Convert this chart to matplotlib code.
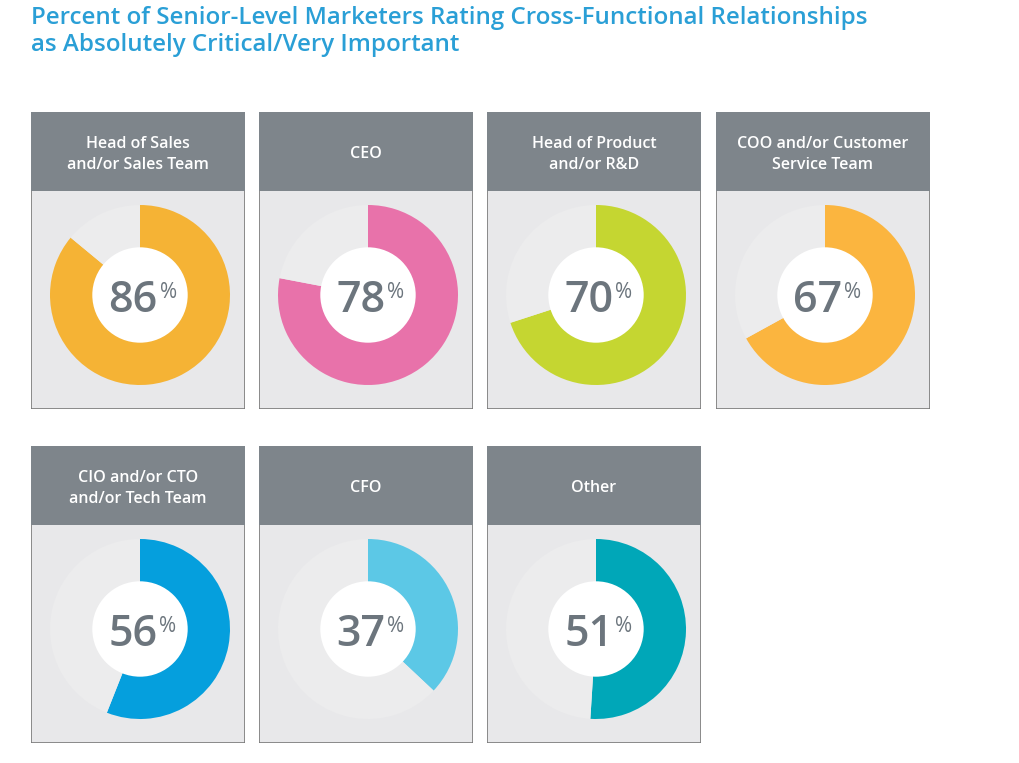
import matplotlib.pyplot as plt
from matplotlib.patches import Rectangle, Circle

labels = [
    "Head of Sales\nand/or Sales Team",
    "CEO",
    "Head of Product\nand/or R&D",
    "COO and/or Customer\nService Team",
    "CIO and/or CTO\nand/or Tech Team",
    "CFO",
    "Other",
]
values = [86, 78, 70, 67, 56, 37, 51]
colors = ["#f5b335", "#e872aa", "#c5d631", "#fbb53f", "#059fdd", "#5cc8e6", "#00a7b8"]

TITLE = "Percent of Senior-Level Marketers Rating Cross-Functional Relationships\nas Absolutely Critical/Very Important"

W, H = 1020, 763
FONT = ["Open Sans", "DejaVu Sans"]
HEADER = "#7e858b"
BODY = "#e8e8ea"
RING = "#ececed"
NUMCOL = "#6c757d"

lefts = [31, 259, 487, 716]
tops = [112, 446]
PW, PH, HH = 214, 297, 79


def px(x, y, w, h):
    return [x / W, 1 - (y + h) / H, w / W, h / H]


fig = plt.figure(figsize=(W / 100, H / 100), dpi=100)
fig.text(31 / W, 1 - 6 / H, TITLE, ha="left", va="top", fontsize=17.4, color="#2a9fd6",
         fontweight="semibold", family=FONT, linespacing=1.15)

for i, (label, value, color) in enumerate(zip(labels, values, colors)):
    left = lefts[i % 4]
    top = tops[i // 4]

    ax = fig.add_axes(px(left, top, PW, PH))
    ax.set_xlim(0, PW)
    ax.set_ylim(PH, 0)
    ax.axis("off")
    ax.add_patch(Rectangle((0, 0), PW, PH, facecolor=BODY, edgecolor="#7a7a7a", lw=1.2))
    ax.add_patch(Rectangle((0, 0), PW, HH, facecolor=HEADER, edgecolor="none"))
    ax.text(PW / 2, HH / 2 + 3, label, ha="center", va="center", color="white",
            fontsize=11.5, fontweight="semibold", family=FONT, linespacing=1.4)

    r = 90
    cx, cy = left + 109, top + 183
    pax = fig.add_axes(px(cx - r, cy - r, 2 * r, 2 * r))
    pax.pie([value, 100 - value], colors=[color, RING], startangle=90,
            counterclock=False, radius=1)
    pax.set_xlim(-1, 1)
    pax.set_ylim(-1, 1)
    pax.set_aspect("equal")
    pax.axis("off")
    pax.add_patch(Circle((0, 0), 0.53, facecolor="white", edgecolor="none"))
    num = pax.text(-0.08, -0.19, f"{value}", ha="center", va="baseline", fontsize=31,
                   color=NUMCOL, fontweight="semibold", family=FONT)
    pax.annotate("%", xy=(1, 1), xycoords=num, xytext=(1.5, -2), textcoords="offset points",
                 ha="left", va="top", fontsize=15, color=NUMCOL, family=FONT)

fig.savefig("out.png", dpi=100)
